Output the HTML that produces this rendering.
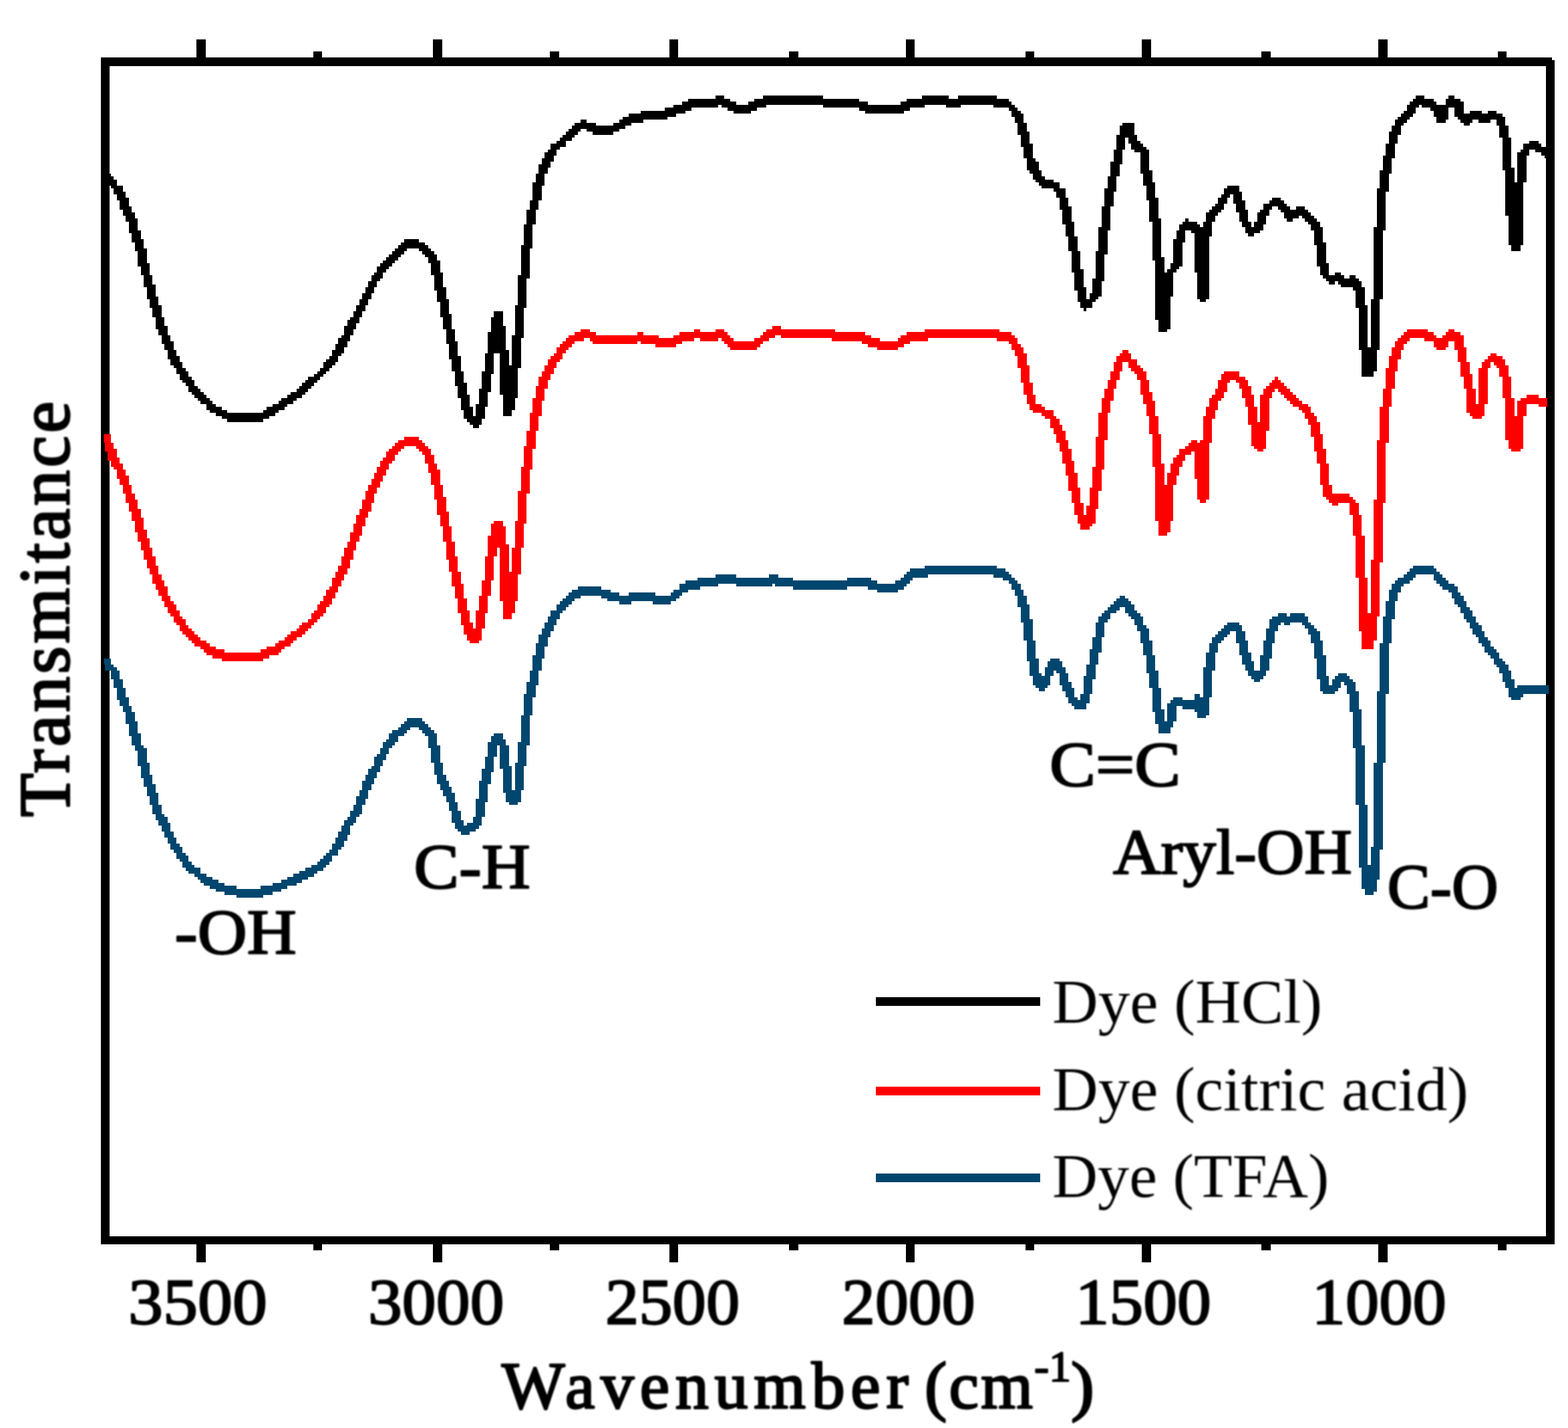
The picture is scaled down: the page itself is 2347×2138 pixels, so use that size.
<!DOCTYPE html>
<html lang="en">
<head>
<meta charset="utf-8">
<title>FTIR spectra</title>
<style>
html,body{margin:0;padding:0;background:#fff;}
body{width:2347px;height:2138px;overflow:hidden;}
svg{display:block;}
svg text{font-family:"Liberation Serif","DejaVu Serif",serif;fill:#000;}
</style>
</head>
<body>
<svg width="2347" height="2138" viewBox="0 0 2347 2138">
<rect x="0" y="0" width="2347" height="2138" fill="#fff"/>
<clipPath id="plot"><rect x="155.6" y="95" width="2162.9" height="1760"/></clipPath>
<g id="frame" shape-rendering="crispEdges">
<rect x="151.1" y="85.6" width="2171.8" height="13.400000000000006" fill="#000"/>
<rect x="151.1" y="1850.5" width="2176.2000000000003" height="12.5" fill="#000"/>
<rect x="151.1" y="85.6" width="13.300000000000011" height="1777.4" fill="#000"/>
<rect x="2314.2" y="90.3" width="13.100000000000364" height="1772.7" fill="#000"/>
<rect x="294.45" y="58.7" width="13.1" height="27.89999999999999" fill="#000"/>
<rect x="294.45" y="1862.0" width="13.1" height="28.299999999999955" fill="#000"/>
<rect x="648.45" y="58.7" width="13.1" height="27.89999999999999" fill="#000"/>
<rect x="648.45" y="1862.0" width="13.1" height="28.299999999999955" fill="#000"/>
<rect x="1001.95" y="58.7" width="13.1" height="27.89999999999999" fill="#000"/>
<rect x="1001.95" y="1862.0" width="13.1" height="28.299999999999955" fill="#000"/>
<rect x="1355.95" y="58.7" width="13.1" height="27.89999999999999" fill="#000"/>
<rect x="1355.95" y="1862.0" width="13.1" height="28.299999999999955" fill="#000"/>
<rect x="1709.45" y="58.7" width="13.1" height="27.89999999999999" fill="#000"/>
<rect x="1709.45" y="1862.0" width="13.1" height="28.299999999999955" fill="#000"/>
<rect x="2063.45" y="58.7" width="13.1" height="27.89999999999999" fill="#000"/>
<rect x="2063.45" y="1862.0" width="13.1" height="28.299999999999955" fill="#000"/>
<rect x="468.95" y="76.6" width="13.1" height="10.0" fill="#000"/>
<rect x="468.95" y="1862.0" width="13.1" height="10.299999999999955" fill="#000"/>
<rect x="823.45" y="76.6" width="13.1" height="10.0" fill="#000"/>
<rect x="823.45" y="1862.0" width="13.1" height="10.299999999999955" fill="#000"/>
<rect x="1181.45" y="76.6" width="13.1" height="10.0" fill="#000"/>
<rect x="1181.45" y="1862.0" width="13.1" height="10.299999999999955" fill="#000"/>
<rect x="1534.95" y="76.6" width="13.1" height="10.0" fill="#000"/>
<rect x="1534.95" y="1862.0" width="13.1" height="10.299999999999955" fill="#000"/>
<rect x="1888.45" y="76.6" width="13.1" height="10.0" fill="#000"/>
<rect x="1888.45" y="1862.0" width="13.1" height="10.299999999999955" fill="#000"/>
<rect x="2242.0499999999997" y="76.6" width="13.1" height="10.0" fill="#000"/>
<rect x="2242.0499999999997" y="1862.0" width="13.1" height="10.299999999999955" fill="#000"/>
</g>
<g id="curves" shape-rendering="crispEdges" clip-path="url(#plot)">
<path d="M309 189h24v1h3v1h1v1h1v1h1v1h1v1h1v2h1v2h1v3h1v5h1v7h1v6h1v5h1v1h1v-3h1v-2h1v-1h3v1h1v2h1v2h1v3h1v2h1v3h1v1h1v-2h1v-6h1v-4h1v-5h1v-4h1v-5h1v-2h1v-1h1v-1h1v-1h1v-1h1v-1h1v-1h1v-1h2v1h1v1h1v1h1v2h1v1h1v1h1v3h1v1h1v4h1v5h1v5h1v6h1v7h1v4h1v-6h1v-1h1v-1h3v1h4v-2h2v1h1v-10h1v-5h1v-3h1v-2h1v-1h1v-1h1v-1h1v-1h1v-1h4v1h1v2h1v3h1v4h1v3h1v3h2v-5h1v-5h1v-4h1v-3h1v-1h2v-1h3v1h1v-1h5v1h1v2h1v1h1v1h1v1h1v3h1v5h1v7h1v3h1v-2h1v-1h1v-1h3v1h1v1h1v1h1v3h1v6h1v12h1v20h1v20h1v-6h1v-28h1v-24h1v-16h1v-9h1v-5h1v-4h1v-2h1v-1h1v-1h2v-1h1v-1h1v-1h1v-1h7v1h1v1h1v1h1v1h1v1h1v1h2v1h1v2h1v1h1v2h1v2h1v1h1v2h1v2h1v1h1v2h1v2h1v1h1v2h1v1h1v1h1v2h1v1h1v1h1v2h1v3h1v3h1v-1h11v3h-9v1h-1v1h-3v-1h-1v-3h-1v-2h-1v-3h-1v-2h-1v-1h-1v-2h-1v-1h-1v-1h-1v-2h-1v-1h-1v-2h-1v-1h-1v-2h-1v-2h-1v-1h-1v-2h-1v-2h-1v-1h-1v-2h-1v-2h-1v-1h-2v-1h-1v-1h-1v-1h-1v-2h-6v1h-1v1h-1v1h-2v1h-1v2h-1v3h-1v6h-1v8h-1v17h-1v23h-1v29h-1v10h-1v4h-1v1h-3v-2h-1v-7h-1v-21h-1v-19h-1v-12h-1v-6h-1v-3h-1v-1h-1v2h-1v1h-1v1h-4v-1h-1v-4h-1v-7h-1v-5h-1v-3h-1v-2h-1v-1h-1v-1h-4v1h-2v-1h-1v1h-1v2h-1v4h-1v5h-1v4h-1v2h-1v1h-1v1h-2v-1h-1v-1h-1v-2h-1v-2h-1v-3h-1v-4h-1v-4h-2v1h-1v1h-1v1h-1v1h-1v3h-1v6h-1v9h-1v6h-1v1h-3v-2h-1v-1h-4v-1h-2v5h-1v2h-1v2h-4v-3h-1v-4h-1v-8h-1v-5h-1v-6h-1v-4h-1v-4h-1v-2h-1v-2h-1v-1h-1v-1h-1v-2h-2v1h-1v1h-2v2h-1v1h-1v5h-1v5h-1v4h-1v5h-1v5h-1v3h-1v2h-4v-1h-1v-1h-1v-2h-1v-2h-1v-2h-1v-4h-1v-1h-1v2h-1v3h-1v1h-1v1h-2v-1h-1v-1h-1v-3h-1v-5h-1v-7h-1v-6h-1v-5h-1v-4h-1v-2h-1v-2h-1v-1h-2v-1h-3v-1h-22v1h-5v1h-1v1h-1v1h-1v1h-2v1h-7v-1h-3v-1h-7v1h-18v-1h-6v-1h-1v1h-12v-1h-6v1h-6v1h-4v1h-2v1h-1v1h-1v1h-2v1h-6v-1h-7v1h-4v-1h-4v-1h-2v-1h-7v1h-2v1h-1v1h-1v1h-1v1h-1v1h-1v2h-1v2h-1v2h-1v2h-1v3h-1v4h-1v4h-1v5h-1v4h-1v6h-1v10h-1v7h-1v8h-1v4h-1v1h-3v-1h-1v-3h-1v-8h-1v-8h-1v4h-1v5h-1v4h-1v6h-1v5h-1v3h-1v1h-1v1h-2v1h-3v-1h-1v-1h-1v-2h-1v-4h-1v-3h-1v-2h-1v-2h-1v-2h-1v-3h-1v-4h-1v-5h-1v-4h-1v-1h-1v-1h-1v-1h-3v1h-1v1h-1v1h-2v2h-1v1h-1v1h-1v2h-1v2h-1v2h-1v2h-1v2h-1v2h-1v2h-1v3h-1v2h-1v3h-1v1h-1v2h-1v1h-1v3h-1v2h-1v2h-1v1h-1v2h-2v2h-1v1h-1v1h-1v1h-2v1h-1v1h-2v1h-2v1h-2v1h-3v1h-2v1h-3v1h-3v1h-9v-1h-4v-1h-3v-1h-2v-1h-2v-1h-1v-1h-1v-1h-1v-1h-2v-1h-1v-1h-1v-2h-1v-1h-1v-2h-1v-1h-1v-2h-1v-2h-1v-2h-1v-2h-1v-2h-1v-2h-1v-3h-1v-3h-1v-3h-1v-3h-1v-4h-1v-5h-1v-2h-1v-3h-1v-4h-1v-4h-1v-2h-1v-2h-1v-4h-1v-3h-1v-3h-2v-2h-1v-1h-1v-1h4v2h1v1h1v1h1v3h1v3h1v3h1v3h1v2h1v3h1v4h1v4h1v1h1v5h1v4h1v3h1v3h1v4h1v3h1v1h1v2h1v3h1v2h1v2h1v1h1v2h1v1h1v2h1v1h1v1h2v2h2v1h2v1h2v1h2v1h4v1h8v-1h4v-1h3v-1h2v-1h2v-1h2v-1h2v-1h2v-1h2v-1h1v-1h1v-1h1v-1h1v-1h1v-2h1v-2h1v-2h1v-2h1v-2h1v-1h1v-2h1v-2h1v-3h1v-2h1v-3h1v-2h1v-2h1v-1h1v-3h1v-1h1v-2h1v-2h1v-1h1v-2h1v-1h2v-1h1v-1h1v-1h1v-1h5v1h1v1h1v1h1v1h1v1h1v4h1v6h1v4h1v2h1v2h1v2h1v3h1v3h1v3h1v2h1v-1h2v-2h1v-6h1v-6h1v-4h1v-4h1v-5h1v-2h1v-1h3v2h1v2h1v7h1v8h1v-9h1v-7h1v-9h1v-7h1v-4h1v-4h1v-5h1v-4h1v-3h1v-2h1v-2h1v-2h1v-2h2v-2h1v-1h1v-1h1v-1h1v-1h1v-1h2v-1h8v1h3v1h3v1h3v-1h9v1h5v-1h1v-1h2v-2h2v-1h4v-1h6v-1h7v1h11v-1h3v1h5v1h18v-1h8v1h2v1h6v-1h2v-1h1v-1h1v-1h1v-1h5z" fill="#00466E" transform="scale(4.48)"/>
<path d="M258 109h3v1h18v1h10v1h2v1h3v1h6v-1h1v-1h2v-1h6v-1h25v1h4v1h1v1h1v2h1v1h1v2h1v4h1v6h1v4h1v3h2v1h1v1h3v2h1v1h1v2h1v2h1v3h1v3h1v4h1v4h1v5h1v5h1v4h1v-3h1v-6h1v-7h1v-10h1v-8h1v-5h1v-3h1v-3h1v-3h1v-3h1v-2h1v-1h1v-1h2v1h1v2h2v2h1v1h1v1h1v3h1v4h1v3h1v5h1v6h1v10h1v7h1v-4h1v-3h1v-2h1v-1h1v-2h2v-1h1v-1h1v-1h2v1h1v-1h1v-8h1v-3h1v-3h1v-1h1v-2h1v-3h1v-2h1v-1h5v2h2v1h1v2h1v3h1v4h1v5h1v-9h1v-2h1v-1h1v-1h1v-1h1v-1h1v1h1v1h1v1h1v1h1v1h1v1h1v1h1v1h1v1h2v1h1v2h1v1h1v2h1v4h1v5h1v5h1v7h1v3h6v1h1v1h1v1h1v4h1v7h1v14h1v12h1v-18h1v-20h1v-20h1v-11h1v-6h1v-7h1v-4h1v-3h1v-2h1v-1h1v-1h1v-1h1v-1h7v1h2v1h1v1h2v-1h1v-1h1v-1h2v1h2v1h1v4h1v5h1v4h1v5h1v5h1v-12h1v-2h1v-1h1v-1h1v-1h2v1h2v1h1v2h1v4h1v7h1v6h1v-5h1v-1h2v-1h4v1h3v3h-3v-1h-4v4h-1v11h-1v1h-3v-1h-1v-3h-1v-14h-1v-7h-1v-3h-1v-1h-1v-1h-1v2h-1v12h-1v4h-1v1h-3v-1h-1v-1h-1v-8h-1v-4h-1v-5h-1v-4h-1v-3h-2v2h-1v1h-3v-1h-1v-2h-3v-1h-5v1h-1v1h-1v2h-1v3h-1v4h-1v6h-1v6h-1v12h-1v20h-1v20h-1v18h-1v8h-1v3h-4v-6h-1v-18h-1v-14h-1v-7h-1v-4h-4v1h-2v-1h-1v-1h-1v-1h-1v-4h-1v-7h-1v-4h-1v-5h-1v-4h-1v-2h-1v-2h-1v-1h-1v-1h-2v-1h-1v-1h-1v-1h-1v-1h-1v-1h-1v-1h-1v1h-1v2h-1v11h-1v6h-1v1h-2v-1h-1v-1h-1v-7h-1v-6h-1v-3h-1v-3h-1v-2h-1v-1h-2v1h-1v3h-1v2h-1v1h-1v3h-1v3h-1v8h-1v19h-1v1h-2v-1h-1v-7h-1v-9h-1v1h-2v2h-1v2h-1v3h-1v3h-1v12h-1v4h-1v1h-3v-5h-1v-18h-1v-11h-1v-6h-1v-4h-1v-3h-1v-5h-1v-2h-1v-1h-1v-1h-1v-2h-2v3h-1v3h-1v3h-1v4h-1v4h-1v9h-1v10h-1v7h-1v6h-1v5h-1v1h-1v1h-3v-2h-1v-3h-1v-4h-1v-4h-1v-5h-1v-4h-1v-4h-1v-3h-1v-3h-1v-2h-1v-3h-2v-1h-1v-1h-3v-1h-1v-2h-1v-3h-1v-4h-1v-5h-1v-4h-1v-2h-1v-2h-1v-1h-4v-1h-23v1h-6v1h-2v1h-2v1h-7v-1h-3v-1h-2v-1h-10v-1h-17v-1h-2v1h-2v1h-2v1h-1v1h-1v1h-9v-1h-1v-1h-1v-1h-1v-1h-1v1h-6v-1h-2v1h-4v1h-2v1h-7v-1h-5v-1h-1v1h-15v-1h-1v-1h-2v1h-3v1h-1v1h-1v1h-1v1h-1v2h-1v1h-1v2h-1v2h-1v2h-1v3h-1v4h-1v5h-1v5h-1v6h-1v7h-1v8h-1v10h-1v8h-1v9h-1v9h-1v4h-1v2h-3v-6h-1v-18h-1v3h-1v8h-1v5h-1v6h-1v5h-1v4h-1v1h-3v-1h-1v-2h-1v-3h-1v-4h-1v-5h-1v-4h-1v-5h-1v-4h-1v-6h-1v-5h-1v-4h-1v-5h-1v-5h-1v-4h-1v-3h-1v-3h-1v-1h-1v-1h-1v-1h-4v1h-1v1h-1v1h-1v2h-1v1h-1v2h-1v2h-1v2h-1v2h-1v2h-1v3h-1v3h-1v2h-1v3h-1v3h-1v2h-1v3h-1v3h-1v3h-1v2h-1v2h-1v2h-1v2h-1v2h-1v2h-1v1h-1v2h-1v1h-1v1h-1v1h-1v1h-1v1h-1v1h-1v1h-1v1h-2v1h-1v1h-1v1h-2v1h-1v1h-1v1h-3v1h-2v1h-14v-1h-3v-1h-2v-1h-1v-1h-1v-1h-2v-1h-1v-1h-1v-1h-1v-1h-1v-1h-1v-2h-1v-1h-1v-2h-1v-1h-1v-2h-1v-2h-1v-2h-1v-2h-1v-2h-1v-3h-1v-2h-1v-3h-1v-3h-1v-3h-1v-3h-1v-4h-1v-3h-1v-3h-1v-3h-1v-3h-1v-2h-1v-3h-1v-1h-1v-2h-1v-3h-1v-3h-1v-3h3v3h1v2h1v3h1v2h1v2h1v2h1v3h1v3h1v2h1v3h1v3h1v4h1v3h1v3h1v3h1v3h1v3h1v2h1v2h1v3h1v2h1v1h1v2h1v2h1v1h1v2h1v1h1v1h1v1h1v1h1v1h2v1h1v1h2v1h3v1h12v-1h2v-1h3v-1h1v-1h2v-1h1v-1h1v-1h2v-1h1v-1h1v-1h2v-1h1v-2h1v-1h1v-2h1v-1h1v-2h1v-2h1v-1h1v-3h1v-2h1v-2h1v-3h1v-3h1v-2h1v-3h1v-3h1v-3h1v-2h1v-3h1v-3h1v-2h1v-2h1v-2h1v-2h1v-2h1v-1h1v-2h1v-1h1v-1h1v-1h1v-1h2v-1h5v1h1v1h1v1h1v1h1v2h1v3h1v2h1v5h1v4h1v5h1v5h1v5h1v5h1v5h1v4h1v5h1v4h1v4h1v2h1v-6h1v-5h1v-5h1v-8h1v-7h1v-4h1v-1h3v2h1v6h1v9h1v-8h1v-9h1v-10h1v-8h1v-7h1v-5h1v-6h1v-5h1v-4h1v-3h1v-2h1v-2h1v-2h1v-1h1v-1h1v-2h1v-1h1v-1h1v-1h1v-1h2v-1h2v-1h3v1h2v1h14v-1h2v1h5v1h5v-1h2v-1h5v-1h2v1h5v-1h3v1h1v1h1v1h1v1h7v-1h2v-1h1v-1h1v-1h2z" fill="#FF0000" transform="scale(4.48)"/>
<path d="M239 32h3v1h2v1h2v1h4v-1h2v-1h3v-1h20v1h12v1h3v1h11v-1h2v-1h5v-1h9v1h3v-1h13v1h4v1h1v1h1v1h1v1h1v1h1v3h1v3h1v4h1v5h1v1h1v3h1v2h1v1h3v1h2v2h2v3h1v3h1v5h1v5h1v5h1v6h1v6h1v4h1v-2h1v-5h1v-9h1v-8h1v-7h1v-6h1v-4h1v-5h1v-4h1v-5h1v-3h1v-1h4v4h1v2h1v1h1v1h1v1h1v7h1v4h1v5h1v7h1v13h1v5h1v-1h1v-2h1v-8h1v-3h1v-2h1v-1h1v-1h1v1h3v1h1v1h1v-2h1v-3h1v-1h1v-1h1v-1h1v-2h1v-1h1v-2h1v-1h4v2h1v3h1v3h1v4h1v2h1v-2h1v-3h1v-1h1v-2h2v-1h1v-1h3v1h1v1h1v1h1v1h2v-1h3v1h1v1h1v1h1v1h1v1h1v2h1v5h1v7h1v4h2v-1h2v1h1v1h2v-1h2v1h1v1h1v2h1v6h1v14h1v-16h1v-24h1v-13h1v-6h1v-5h1v-4h1v-4h1v-2h1v-2h1v-1h1v-1h1v-1h1v-2h1v-1h1v-1h1v-1h3v1h3v1h1v1h3v-2h1v-1h2v1h2v1h1v4h2v-1h4v1h2v-1h3v1h2v1h1v3h1v4h1v10h1v5h1v-10h1v-1h1v-2h2v-1h3v1h1v1h2v4h-1v-1h-1v-1h-2v-1h-2v2h-1v9h-1v21h-1v2h-3v-2h-1v-10h-1v-15h-1v-11h-1v-4h-1v-2h-2v1h-4v-1h-2v1h-1v1h-2v-1h-1v-1h-1v-1h-1v-3h-2v4h-1v1h-3v-2h-1v-2h-1v-1h-3v-1h-1v1h-1v2h-1v1h-1v1h-1v1h-1v1h-1v3h-1v3h-1v5h-1v5h-1v6h-1v13h-1v23h-1v17h-1v7h-1v2h-4v-9h-1v-14h-1v-6h-1v-1h-4v-1h-1v-1h-1v1h-2v-1h-1v-1h-1v-1h-1v-3h-1v-7h-1v-5h-1v-2h-1v-1h-1v-1h-1v-1h-1v1h-2v1h-2v-1h-1v-2h-1v-1h-1v-1h-2v1h-1v2h-1v3h-1v2h-1v1h-2v1h-2v-1h-1v-2h-1v-2h-1v-3h-1v-3h-1v-3h-1v1h-1v2h-1v2h-1v1h-1v1h-1v2h-1v5h-1v21h-1v1h-2v-1h-1v-9h-1v-13h-1v-1h-2v4h-1v8h-1v1h-1v1h-1v8h-1v11h-1v1h-3v-4h-1v-20h-1v-13h-1v-7h-1v-5h-1v-4h-1v-7h-2v-1h-1v-2h-1v-2h-1v4h-1v5h-1v4h-1v5h-1v5h-1v8h-1v8h-1v9h-1v5h-1v1h-1v1h-1v2h-2v1h-1v-1h-1v-2h-1v-4h-1v-6h-1v-7h-1v-5h-1v-4h-1v-5h-1v-4h-1v-2h-1v-1h-4v-1h-1v-1h-1v-1h-1v-2h-1v-1h-1v-4h-1v-4h-1v-4h-1v-4h-1v-2h-1v-2h-1v-1h-5v-1h-11v1h-5v-1h-7v1h-5v1h-2v1h-13v-1h-2v-1h-12v-1h-19v1h-3v1h-2v1h-6v-1h-2v-1h-2v-1h-1v1h-9v1h-2v1h-3v1h-3v1h-8v1h-4v1h-2v1h-2v1h-2v1h-7v-1h-2v-1h-2v1h-1v1h-1v1h-1v1h-2v2h-2v1h-1v2h-1v2h-1v2h-1v2h-1v4h-1v5h-1v3h-1v5h-1v8h-1v10h-1v10h-1v10h-1v10h-1v10h-1v4h-1v2h-3v-7h-1v-14h-2v7h-1v6h-1v5h-1v4h-1v2h-1v1h-2v-1h-1v-1h-1v-1h-1v-3h-1v-4h-1v-4h-1v-5h-1v-4h-1v-5h-1v-5h-1v-4h-1v-5h-1v-4h-1v-5h-1v-4h-1v-2h-1v-1h-1v-1h-1v-1h-4v1h-1v1h-1v1h-1v1h-1v1h-1v1h-1v1h-1v1h-1v2h-1v1h-1v2h-1v2h-1v2h-1v2h-1v2h-1v2h-1v2h-1v2h-1v2h-1v2h-1v2h-1v2h-1v1h-1v2h-1v1h-1v1h-1v1h-1v1h-1v1h-1v1h-1v1h-1v1h-1v1h-1v1h-1v1h-1v1h-2v1h-1v1h-2v1h-1v1h-2v1h-1v1h-2v1h-2v1h-12v-1h-2v-1h-2v-1h-2v-1h-1v-2h-2v-1h-1v-1h-1v-1h-1v-1h-1v-2h-1v-1h-1v-1h-1v-2h-1v-2h-1v-1h-1v-2h-1v-3h-1v-2h-1v-3h-1v-2h-1v-4h-1v-3h-1v-3h-1v-4h-1v-4h-1v-3h-1v-5h-1v-3h-1v-3h-1v-4h-1v-2h-1v-2h-1v-3h-1v-2h-1v-2h-1v-1h-2v-2h-1v-1h-1v-2h3v1h1v1h1v1h1v2h2v2h1v2h1v3h1v2h1v2h1v4h1v3h1v3h1v5h1v4h1v3h1v4h1v3h1v4h1v3h1v3h1v2h1v3h1v2h1v2h1v2h1v1h1v2h1v1h1v2h1v1h1v1h1v1h1v1h1v1h1v1h1v1h2v1h2v1h12v-1h1v-1h2v-1h2v-1h1v-1h2v-1h1v-1h2v-1h1v-1h1v-1h1v-1h1v-1h2v-1h1v-1h1v-1h1v-2h1v-1h1v-1h1v-2h1v-2h1v-2h1v-1h1v-3h1v-2h1v-1h1v-2h1v-2h1v-2h1v-2h1v-2h1v-2h1v-2h1v-1h1v-2h1v-1h1v-1h1v-1h1v-1h1v-1h1v-1h1v-1h1v-1h1v-1h5v1h2v1h1v1h1v1h1v1h1v2h1v4h1v5h1v4h1v5h1v5h1v4h1v5h1v5h1v4h1v4h1v4h1v3h1v-4h1v-5h1v-6h1v-6h1v-7h1v-5h1v-2h3v5h1v8h1v5h1v-10h1v-10h1v-10h1v-10h1v-7h1v-5h1v-3h1v-6h1v-3h1v-3h1v-2h1v-2h1v-1h1v-2h2v-1h1v-1h1v-1h1v-1h1v-1h1v-1h1v-1h2v-1h2v1h3v1h6v-1h2v-1h1v-1h2v-1h4v-1h8v-1h3v-1h3v-1h2v-1h9z" fill="#000" transform="scale(4.48)"/>
</g>
<g id="legend" shape-rendering="crispEdges">
<rect x="1311" y="1492.5" width="246" height="13" fill="#000"/>
<rect x="1311" y="1626.5" width="246" height="13" fill="#FF0000"/>
<rect x="1311" y="1756.5" width="246" height="13" fill="#00466E"/>
</g>
<defs>
<filter id="soft" x="-5%" y="-20%" width="110%" height="140%" color-interpolation-filters="sRGB"><feGaussianBlur in="SourceGraphic" stdDeviation="0.8"/></filter>
<filter id="softl" x="-5%" y="-20%" width="110%" height="140%" color-interpolation-filters="sRGB"><feGaussianBlur in="SourceGraphic" stdDeviation="1"/></filter>
</defs>
<g id="labels">
<text filter="url(#soft)" transform="translate(103.00,1223.10) rotate(-90)" font-size="107" textLength="622.22" lengthAdjust="spacing" stroke="#000" stroke-width="2.9" stroke-linejoin="round">Transmitance</text>
<text filter="url(#soft)" x="751.00" y="2108.00" font-size="100" textLength="608.71" lengthAdjust="spacing" stroke="#000" stroke-width="2.9" stroke-linejoin="round">Wavenumber</text>
<text filter="url(#soft)" x="1384.00" y="2108.00" font-size="100" textLength="161.96" lengthAdjust="spacing" stroke="#000" stroke-width="2.9" stroke-linejoin="round">(cm</text>
<text filter="url(#soft)" x="1548.00" y="2068.40" font-size="66" textLength="55.34" lengthAdjust="spacingAndGlyphs" stroke="#000" stroke-width="2.2" stroke-linejoin="round">-1</text>
<text filter="url(#soft)" x="1603.00" y="2108.00" font-size="100" textLength="34.84" lengthAdjust="spacingAndGlyphs" stroke="#000" stroke-width="2.9" stroke-linejoin="round">)</text>
<text filter="url(#soft)" x="192.00" y="1982.40" font-size="97" textLength="208.01" lengthAdjust="spacingAndGlyphs" stroke="#000" stroke-width="2.4" stroke-linejoin="round">3500</text>
<text filter="url(#soft)" x="551.00" y="1982.40" font-size="97" textLength="203.50" lengthAdjust="spacingAndGlyphs" stroke="#000" stroke-width="2.4" stroke-linejoin="round">3000</text>
<text filter="url(#soft)" x="906.00" y="1982.40" font-size="97" textLength="201.17" lengthAdjust="spacingAndGlyphs" stroke="#000" stroke-width="2.4" stroke-linejoin="round">2500</text>
<text filter="url(#soft)" x="1260.00" y="1982.40" font-size="97" textLength="199.68" lengthAdjust="spacingAndGlyphs" stroke="#000" stroke-width="2.4" stroke-linejoin="round">2000</text>
<text filter="url(#soft)" x="1609.50" y="1982.40" font-size="97" textLength="203.39" lengthAdjust="spacingAndGlyphs" stroke="#000" stroke-width="2.4" stroke-linejoin="round">1500</text>
<text filter="url(#soft)" x="1963.50" y="1982.40" font-size="97" textLength="201.50" lengthAdjust="spacingAndGlyphs" stroke="#000" stroke-width="2.4" stroke-linejoin="round">1000</text>
<text filter="url(#soft)" x="261.50" y="1427.80" font-size="95" textLength="182.28" lengthAdjust="spacingAndGlyphs" stroke="#000" stroke-width="2.4" stroke-linejoin="round">-OH</text>
<text filter="url(#soft)" x="619.50" y="1329.60" font-size="95" textLength="174.33" lengthAdjust="spacingAndGlyphs" stroke="#000" stroke-width="2.4" stroke-linejoin="round">C-H</text>
<text filter="url(#soft)" x="1571.00" y="1176.50" font-size="95" textLength="196.38" lengthAdjust="spacingAndGlyphs" stroke="#000" stroke-width="2.4" stroke-linejoin="round">C=C</text>
<text filter="url(#soft)" x="1666.00" y="1308.40" font-size="95" textLength="357.81" lengthAdjust="spacingAndGlyphs" stroke="#000" stroke-width="2.4" stroke-linejoin="round">Aryl-OH</text>
<text filter="url(#soft)" x="2076.50" y="1360.00" font-size="95" textLength="166.21" lengthAdjust="spacingAndGlyphs" stroke="#000" stroke-width="2.4" stroke-linejoin="round">C-O</text>
<text filter="url(#softl)" x="1575.00" y="1531.40" font-size="92.5" textLength="404.31" lengthAdjust="spacingAndGlyphs">Dye (HCl)</text>
<text filter="url(#softl)" x="1575.00" y="1661.60" font-size="92.5" textLength="622.97" lengthAdjust="spacingAndGlyphs">Dye (citric acid)</text>
<text filter="url(#softl)" x="1575.00" y="1792.40" font-size="92.5" textLength="414.52" lengthAdjust="spacingAndGlyphs">Dye (TFA)</text>
</g>
</svg>
</body>
</html>
